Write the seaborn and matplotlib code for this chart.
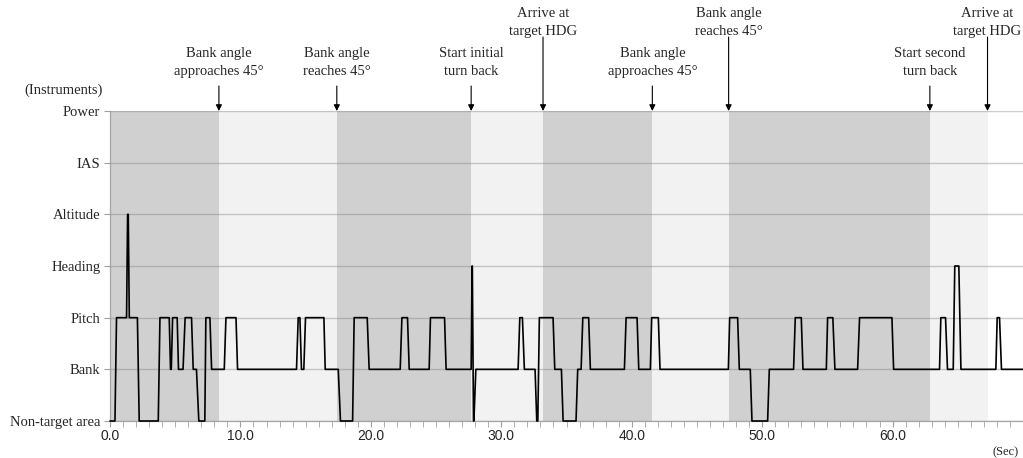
import pandas as pd
import matplotlib
matplotlib.use("Agg")
import matplotlib.pyplot as plt
from matplotlib.ticker import MultipleLocator
import seaborn as sns

# instrument levels (bottom -> top)
instruments = ["Non-target area", "Bank", "Pitch", "Heading", "Altitude", "IAS", "Power"]

# gaze dwell segments: start (s), end (s), instrument index
seg_start = [0.0, 0.5, 1.35, 1.48, 2.24, 3.83, 4.64, 4.8, 5.25, 5.76, 6.38, 6.81, 7.35, 7.79,
             8.89, 9.78, 14.43, 14.68, 14.99, 16.5, 17.67, 18.72, 19.87, 22.38, 22.94, 24.57,
             25.77, 27.76, 27.87, 28.05, 31.42, 31.77, 32.72, 32.92, 34.1, 34.74, 35.86, 36.25,
             36.83, 39.57, 40.54, 41.53, 42.17, 47.51, 48.25, 49.22, 50.55, 52.54, 53.13, 55.02,
             55.58, 57.47, 60.08, 63.7, 64.21, 64.77, 65.24, 68.02, 68.35]
seg_end = [0.38, 1.27, 1.4, 2.1, 3.7, 4.54, 4.7, 5.15, 5.6, 6.25, 6.63, 7.27, 7.66, 8.76,
           9.66, 14.3, 14.56, 14.86, 16.4, 17.5, 18.6, 19.72, 22.25, 22.81, 24.47, 25.65,
           27.69, 27.78, 27.9, 31.29, 31.62, 32.59, 32.8, 33.97, 34.61, 35.73, 36.12, 36.7,
           39.44, 40.41, 41.43, 42.04, 47.41, 48.12, 49.09, 50.42, 52.41, 53.0, 54.92, 55.42,
           57.32, 59.95, 63.6, 64.06, 64.65, 65.08, 67.92, 68.2, 70.0]
seg_level = [0, 2, 4, 2, 0, 2, 1, 2, 1, 2, 1, 0, 2, 1,
             2, 1, 2, 1, 2, 1, 0, 2, 1, 2, 1, 2,
             1, 3, 0, 1, 2, 1, 0, 2, 1, 0, 1, 2,
             1, 2, 1, 2, 1, 2, 1, 0, 1, 2, 1, 2,
             1, 2, 1, 2, 1, 3, 1, 2, 1]

# flight phases (shaded bands)
phase_start = [0.0, 8.35, 17.39, 27.69, 33.2, 41.58, 47.43, 62.86]
phase_end = [8.35, 17.39, 27.69, 33.2, 41.58, 47.43, 62.86, 67.28]
phase_dark = [True, False, True, False, True, False, True, False]

# events marked with arrows
event_time = [8.35, 17.39, 27.69, 33.2, 41.58, 47.43, 62.86, 67.28]
event_label = ["Bank angle\napproaches 45°", "Bank angle\nreaches 45°", "Start initial\nturn back",
               "Arrive at\ntarget HDG", "Bank angle\napproaches 45°", "Bank angle\nreaches 45°",
               "Start second\nturn back", "Arrive at\ntarget HDG"]
event_high = [False, False, False, True, False, True, False, True]

times, levels = [], []
for s, e, lv in zip(seg_start, seg_end, seg_level):
    times += [s, e]
    levels += [lv, lv]
df = pd.DataFrame({"Time": times, "Level": levels})

sns.set_style("ticks")
serif = ["Liberation Serif", "DejaVu Serif"]
sans = ["Liberation Sans", "DejaVu Sans"]

fig = plt.figure(figsize=(10.23, 4.58), dpi=100)
ax = fig.add_axes([110 / 1023, 37 / 458, 913 / 1023, 310 / 458])

for s, e, dark in zip(phase_start, phase_end, phase_dark):
    ax.axvspan(s, e, color="#d0d0d0" if dark else "#f2f2f2", lw=0, zorder=0)

sns.lineplot(data=df, x="Time", y="Level", estimator=None, sort=False,
             color="black", lw=1.2, ax=ax, clip_on=False, zorder=3)

ax.set_xlim(0, 70)
ax.set_ylim(0, 6)
ax.set_yticks(range(len(instruments)))
ax.set_yticklabels(instruments, fontsize=10.5, family=serif)
ax.xaxis.set_major_locator(MultipleLocator(10))
ax.xaxis.set_minor_locator(MultipleLocator(1))
ax.set_xticks([0, 10, 20, 30, 40, 50, 60])
ax.set_xticklabels([f"{v:.1f}" for v in [0, 10, 20, 30, 40, 50, 60]], fontsize=10, family=sans)
ax.tick_params(axis="x", which="both", direction="out", length=4, color="#a0a0a0", pad=2)
ax.tick_params(axis="y", direction="out", length=4, color="#a0a0a0", pad=3)
ax.set_xlabel("")
ax.set_ylabel("")

ax.yaxis.grid(True, color="#7f7f7f", alpha=0.4, lw=1)
ax.set_axisbelow(False)
for sp in ["top", "right"]:
    ax.spines[sp].set_visible(False)
for sp in ["left", "bottom"]:
    ax.spines[sp].set_color("#a6a6a6")
    ax.spines[sp].set_linewidth(0.9)

for t, lab, high in zip(event_time, event_label, event_high):
    y0 = (421 - 37) / 310 if high else (421 - 86) / 310
    yc = (421 - 22.5) / 310 if high else (421 - 62.5) / 310
    ax.annotate("", xy=(t, 6), xycoords="data", xytext=(t, y0),
                textcoords=("data", "axes fraction"),
                arrowprops=dict(arrowstyle="-|>", color="black", lw=0.8,
                                shrinkA=0, shrinkB=0, mutation_scale=9))
    ax.text(t, yc, lab, transform=ax.get_xaxis_transform(), ha="center", va="center",
            fontsize=10.5, family=serif, linespacing=1.5)

fig.text(103 / 1023, 1 - 90 / 458, "(Instruments)", ha="right", va="center", fontsize=10.5, family=serif)
fig.text(1006 / 1023, 1 - 452 / 458, "(Sec)", ha="center", va="center", fontsize=9, family=serif)

fig.savefig("out.png", dpi=100)
